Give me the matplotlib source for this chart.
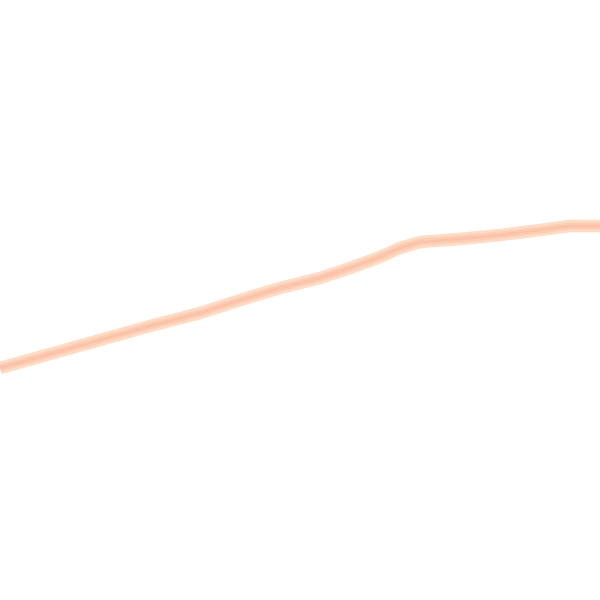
import numpy as np
import matplotlib
matplotlib.use("Agg")
import matplotlib.pyplot as plt

# centre of the band (pixel coords, y downwards)
xs = [0, 50, 100, 150, 200, 250, 280, 320, 350, 380, 400, 420, 460, 500, 540, 570, 600]
ys = [368, 354, 340, 326, 313, 297, 288, 278, 268, 257, 248, 242, 239, 235, 230, 226, 226]

fig = plt.figure(figsize=(6, 6), dpi=100)
ax = fig.add_axes([0, 0, 1, 1])
ax.set_xlim(0, 600)
ax.set_ylim(600, 0)
ax.axis('off')

ax.plot(xs, ys, color='#fddcc3', lw=9, solid_capstyle='butt', solid_joinstyle='round')
ax.plot(xs, ys, color='#fdcdb3', lw=5, solid_capstyle='butt', solid_joinstyle='round')
ax.plot(xs, ys, color='#fcb8a0', lw=2, solid_capstyle='butt', solid_joinstyle='round', alpha=0.5)

fig.savefig('out.png', dpi=100)
